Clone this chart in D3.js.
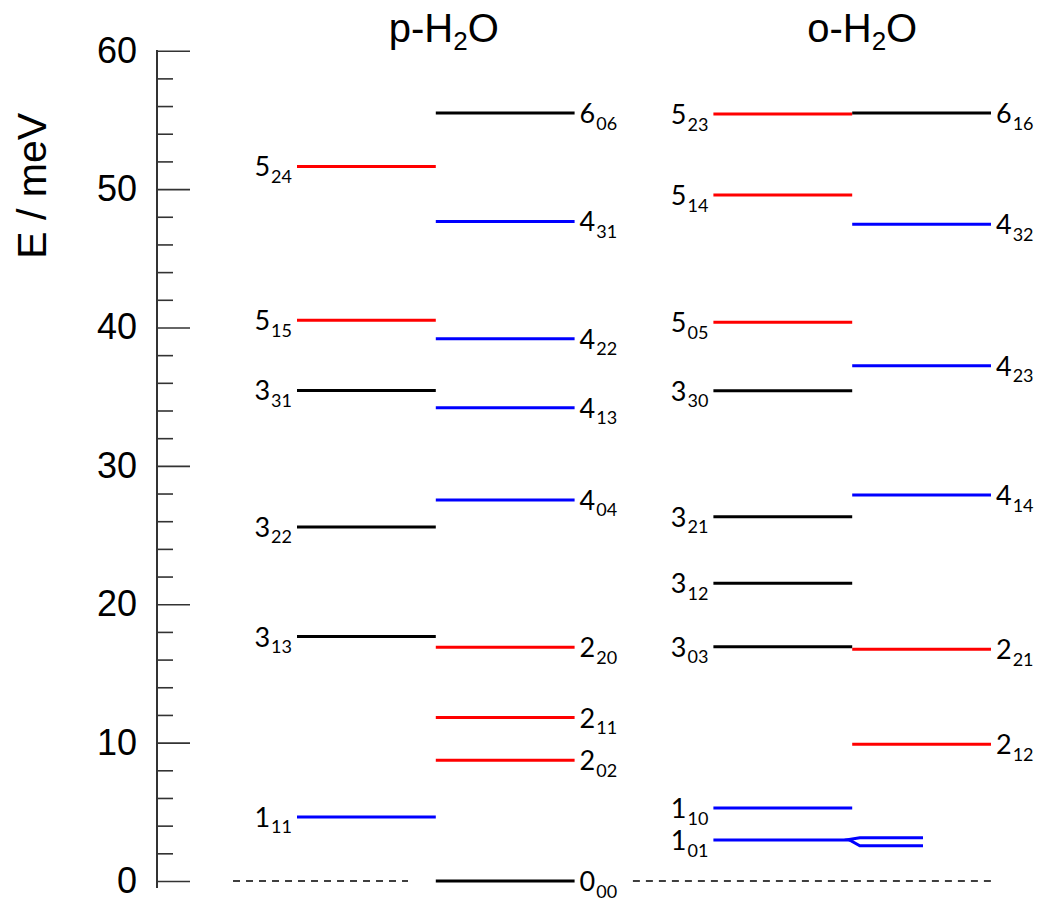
<!DOCTYPE html>
<html>
<head>
<meta charset="utf-8">
<script src="https://cdn.jsdelivr.net/npm/d3@7/dist/d3.min.js"></script>
<style>
  html, body { margin: 0; padding: 0; background: #fff; }
  svg { display: block; }
</style>
</head>
<body>
<svg id="chart" width="1042" height="902"></svg>
<script>
// ---------------- data ----------------
const speciesTitles = ["p-H", "o-H"];

// para water, left column
const pLeftLabels   = ["5_24", "5_15", "3_31", "3_22", "3_13", "1_11"];
const pLeftEnergy   = [51.64, 40.53, 35.45, 25.59, 17.66, 4.63];
const pLeftGroup    = ["r", "r", "k", "k", "k", "b"];

// para water, right column
const pRightLabels  = ["6_06", "4_31", "4_22", "4_13", "4_04", "2_20", "2_11", "2_02", "0_00"];
const pRightEnergy  = [55.49, 47.66, 39.18, 34.19, 27.54, 16.89, 11.81, 8.72, 0];
const pRightGroup   = ["k", "b", "b", "b", "b", "r", "r", "r", "k"];

// ortho water, left column
const oLeftLabels   = ["5_23", "5_14", "5_05", "3_30", "3_21", "3_12", "3_03", "1_10", "1_01"];
const oLeftEnergy   = [55.42, 49.57, 40.37, 35.43, 26.33, 21.51, 16.93, 5.27, 2.96];
const oLeftGroup    = ["r", "r", "r", "k", "k", "k", "k", "b", "b"];

// ortho water, right column
const oRightLabels  = ["6_16", "4_32", "4_23", "4_14", "2_21", "2_12"];
const oRightEnergy  = [55.49, 47.45, 37.24, 27.89, 16.74, 9.88];
const oRightGroup   = ["k", "b", "b", "b", "r", "r"];

// split (doubled) 1_01 level drawn to the right, energies of the two branches
const splitEnergies = [3.13, 2.55];
const splitJoinEnergy = 2.96;

// y axis ticks
const majorTicks = [0, 10, 20, 30, 40, 50, 60];
const minorTicks = [2, 4, 6, 8, 12, 14, 16, 18, 22, 24, 26, 28, 32, 34, 36, 38, 42, 44, 46, 48, 52, 54, 56, 58];
const axisTitle = "E / meV";

// ---------------- layout ----------------
const svg = d3.select("#chart");
const y = d3.scaleLinear().domain([0, 60]).range([881, 50.7]);
// column units: 0 = p left, 1 = p right, 3 = o left, 4 = o right
const x = d3.scaleLinear().domain([0, 5]).range([297, 991]);
const colors = { r: "#ff0000", b: "#0000ff", k: "#000000" };

const columns = [
  { col: 0, side: "left",  labels: pLeftLabels,  energy: pLeftEnergy,  group: pLeftGroup },
  { col: 1, side: "right", labels: pRightLabels, energy: pRightEnergy, group: pRightGroup },
  { col: 3, side: "left",  labels: oLeftLabels,  energy: oLeftEnergy,  group: oLeftGroup },
  { col: 4, side: "right", labels: oRightLabels, energy: oRightEnergy, group: oRightGroup }
];

const levels = [];
columns.forEach(c => {
  c.labels.forEach((lab, i) => {
    levels.push({ col: c.col, side: c.side, label: lab, E: c.energy[i], g: c.group[i] });
  });
});

// ---------------- axis ----------------
const axisX = 157;
const gAxis = svg.append("g").attr("transform", `translate(${axisX},0)`);

gAxis.append("g")
  .call(d3.axisLeft(y).tickValues(majorTicks).tickSize(-33).tickPadding(20).tickSizeOuter(0).tickFormat(d3.format("d")))
  .call(g => g.select(".domain").remove())
  .call(g => g.selectAll(".tick line").attr("stroke", "#333").attr("stroke-width", 1.6))
  .call(g => g.selectAll(".tick text")
      .attr("fill", "#000")
      .style("font-family", "'Liberation Sans', Arial, Helvetica, sans-serif")
      .style("font-size", "36px"));

gAxis.append("g")
  .call(d3.axisLeft(y).tickValues(minorTicks).tickSize(-16).tickSizeOuter(0).tickFormat(""))
  .call(g => g.select(".domain").remove())
  .call(g => g.selectAll(".tick line").attr("stroke", "#333").attr("stroke-width", 1.6));

gAxis.append("line")
  .attr("x1", 0).attr("x2", 0)
  .attr("y1", y(60) - 0.8).attr("y2", y(-0.5))
  .attr("stroke", "#333").attr("stroke-width", 2);

svg.append("text")
  .attr("transform", `translate(46,${(y(60) + y(0)) / 2 - 280}) rotate(-90)`)
  .attr("text-anchor", "middle")
  .style("font-family", "'Liberation Sans', Arial, Helvetica, sans-serif")
  .style("font-size", "41px")
  .attr("fill", "#000")
  .text(axisTitle);

// ---------------- titles ----------------
const titleX = [x(1) + 8, x(4) + 10];
speciesTitles.forEach((t, i) => {
  const tt = svg.append("text")
    .attr("x", titleX[i]).attr("y", 42)
    .attr("text-anchor", "middle")
    .style("font-family", "'Liberation Sans', Arial, Helvetica, sans-serif")
    .style("font-size", "40px")
    .attr("fill", "#000");
  tt.append("tspan").text(t);
  tt.append("tspan").attr("dy", 8).style("font-size", "26px").text("2");
  tt.append("tspan").attr("dy", -8).text("O");
});

// ---------------- zero baselines (dashed) ----------------
const dashSpans = [[-0.461, 0.80], [2.42, 5.0]];
svg.append("g").selectAll("line").data(dashSpans).join("line")
  .attr("x1", d => x(d[0])).attr("x2", d => x(d[1]))
  .attr("y1", y(0)).attr("y2", y(0))
  .attr("stroke", "#000").attr("stroke-width", 1.4)
  .attr("stroke-dasharray", "7,6");

// ---------------- levels ----------------
const gLev = svg.append("g");
gLev.selectAll("line").data(levels).join("line")
  .attr("x1", d => x(d.col)).attr("x2", d => x(d.col + 1))
  .attr("y1", d => y(d.E)).attr("y2", d => y(d.E))
  .attr("stroke", d => colors[d.g]).attr("stroke-width", 3);

// split 1_01 level
const splitPath = d3.path();
splitPath.moveTo(x(4.51), y(splitEnergies[0]));
splitPath.lineTo(x(4.055), y(splitEnergies[0]));
splitPath.lineTo(x(3.975), y(splitJoinEnergy) - 0.5);
splitPath.lineTo(x(4.055), y(splitEnergies[1]));
splitPath.lineTo(x(4.51), y(splitEnergies[1]));
svg.append("path").attr("d", splitPath.toString())
  .attr("fill", "none").attr("stroke", colors.b).attr("stroke-width", 3)
  .attr("stroke-linejoin", "miter");

// ---------------- labels ----------------
const gLab = svg.append("g")
  .style("font-family", "Lato, 'Open Sans', sans-serif")
  .attr("fill", "#000");
levels.forEach(d => {
  const [J, sub] = d.label.split("_");
  const isLeft = d.side === "left";
  const t = gLab.append("text")
    .attr("x", isLeft ? x(d.col) - 5 : x(d.col + 1) + 5)
    .attr("y", y(d.E) + 10)
    .attr("text-anchor", isLeft ? "end" : "start");
  t.append("tspan").style("font-size", "27px").text(J);
  t.append("tspan").attr("dx", 1).attr("dy", 6.5).style("font-size", "18px").text(sub);
});
</script>
</body>
</html>
